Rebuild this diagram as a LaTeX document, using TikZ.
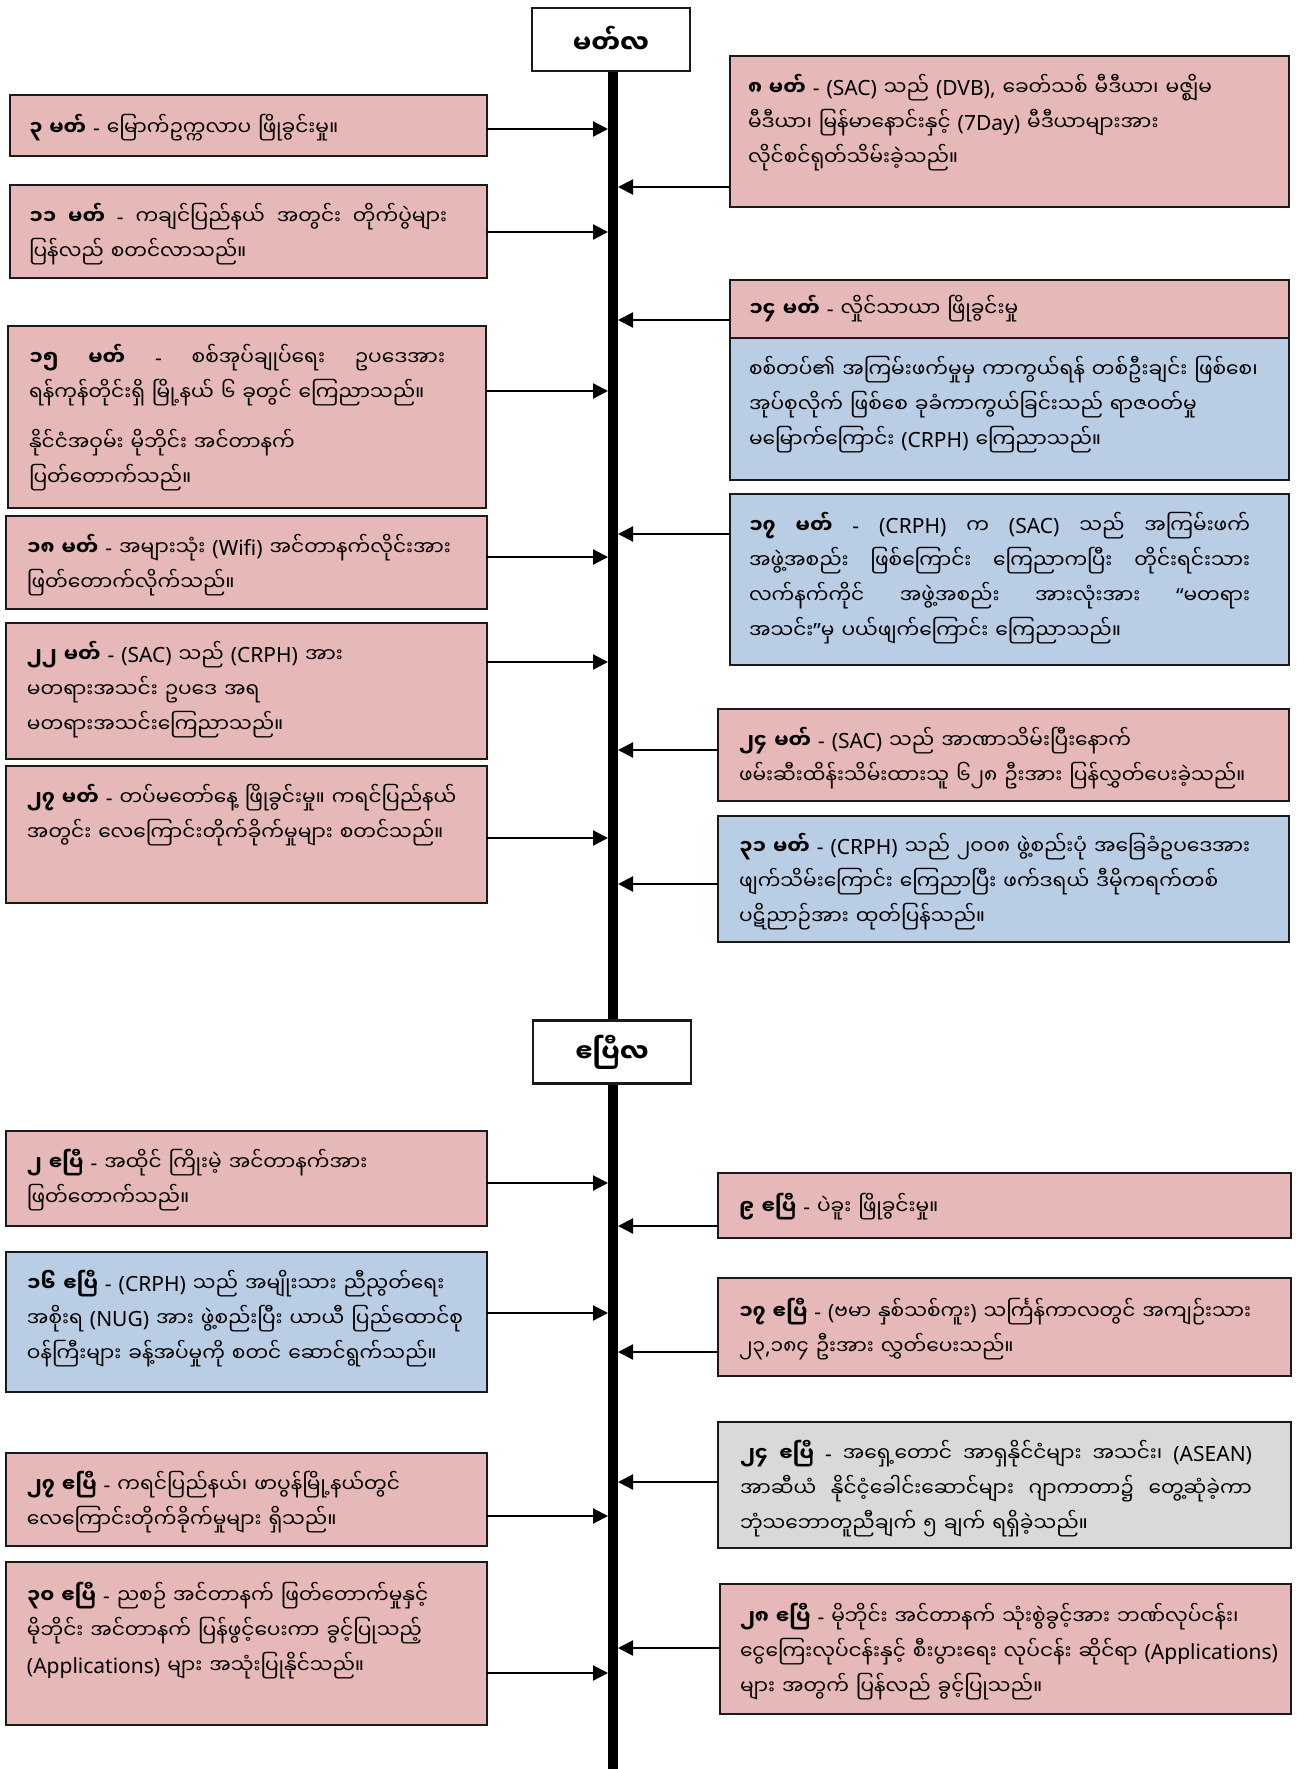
\documentclass[tikz,border=0pt]{standalone}
\usepackage{fontspec}
\setmainfont{Noto Sans}
\newfontfamily\latfont{Noto Sans}
\newfontfamily\mmfont[Script=Myanmar,Scale=0.96]{Noto Sans Myanmar UI}
\usetikzlibrary{arrows.meta,calc}
\setlength{\parindent}{0pt}
\setlength{\parskip}{0pt}
\lineskiplimit=-100pt
\XeTeXinterchartokenstate=1
\newXeTeXintercharclass\mmclass
\newcount\mmcnt
\mmcnt="1000
\loop
  \XeTeXcharclass\mmcnt=\mmclass
  \advance\mmcnt by 1
\ifnum\mmcnt<"10A0 \repeat
\XeTeXinterchartoks 0 \mmclass = {\mmfont}
\XeTeXinterchartoks 4095 \mmclass = {\mmfont}
\XeTeXinterchartoks \mmclass 0 = {\latfont}
\XeTeXinterchartoks \mmclass 4095 = {\latfont}
\definecolor{pinkc}{HTML}{E6B8B7}
\definecolor{bluec}{HTML}{B9CDE5}
\definecolor{grayc}{HTML}{D9D9D9}
\definecolor{bordc}{HTML}{1A1A1A}
\newcommand\sst{\rule[-10.5pt]{0pt}{35pt}}
\newcommand\jsp{\hskip 5pt plus 1fil\relax}
\newcommand\jl[2]{\leavevmode\hbox to #1pt{\sst#2}}
\newcommand\bx[6]{\node[#1, minimum width={#5pt-#3pt}, minimum height={#6pt-#4pt}] (#2) at (#3,#4) {};}
\tikzset{
  box/.style={draw=bordc, line width=2.4pt, anchor=north west, inner sep=0pt, outer sep=0pt},
  pbox/.style={box, fill=pinkc},
  bbox/.style={box, fill=bluec},
  gbox/.style={box, fill=grayc},
  txt/.style={anchor=north west, inner sep=0pt, outer sep=0pt, text width=640pt, align=left,
    font=\fontsize{21}{35}\selectfont},
  arr/.style={line width=2.2pt, -{Triangle[length=15pt,width=15pt]}},
  tline/.style={line width=10pt},
  hdr/.style={draw=bordc, line width=2.6pt, fill=white, minimum width=158pt,
    minimum height=63pt, inner sep=0pt, font=\fontsize{27}{30}\selectfont\bfseries}
}
\begin{document}
\begin{tikzpicture}[x=1pt,y=-1pt]
\useasboundingbox (0,0) rectangle (1297,1769);
\coordinate (tlx) at (613,0);
\coordinate (tlbot) at (613,1769);
% headers and timeline
\node[hdr] (H1) at (611,39.5) {မတ်လ};
\node[hdr] (H2) at (612,1052) {ဧပြီလ};
\draw[tline] (H1.south -| tlx) -- (H2.north -| tlx);
\draw[tline] (H2.south -| tlx) -- (tlbot);
% ---------------- left boxes
\bx{pbox}{L1}{10}{95}{487}{156}
\bx{pbox}{L2}{10}{185}{487}{278}
\bx{pbox}{L3}{8}{326}{486}{508}
\bx{pbox}{L4}{6}{516}{487}{609}
\bx{pbox}{L5}{6}{623}{487}{759}
\bx{pbox}{L6}{6}{766}{487}{903}
\bx{pbox}{L7}{6}{1131}{487}{1226}
\bx{bbox}{L8}{6}{1252}{487}{1392}
\bx{pbox}{L9}{6}{1453}{487}{1546}
\bx{pbox}{L10}{6}{1562}{487}{1725}
% ---------------- right boxes
\bx{pbox}{R1}{730}{56}{1289}{207}
\bx{pbox}{R2a}{730}{280}{1289}{338}
\bx{bbox}{R2b}{730}{338}{1289}{480}
\bx{bbox}{R3}{730}{494}{1289}{665}
\bx{pbox}{R4}{718}{709}{1289}{801}
\bx{bbox}{R5}{718}{816}{1289}{942}
\bx{pbox}{R6}{718}{1173}{1291}{1238}
\bx{pbox}{R7}{718}{1278}{1291}{1376}
\bx{gbox}{R8}{718}{1422}{1291}{1548}
\bx{pbox}{R9}{720}{1584}{1291}{1714}
% ---------------- texts left
\node[txt] (L1t) at ($(L1.north west)+(19,16)$) {\sst\textbf{၃ မတ် -} မြောက်ဥက္ကလာပ ဖြိုခွင်းမှု။};
\node[txt] (L2t) at ($(L2.north west)+(19,15)$) {\jl{418}{\textbf{၁၁\jsp မတ်\jsp -}\jsp ကချင်ပြည်နယ်\jsp အတွင်း\jsp တိုက်ပွဲများ}\\
  \sst ပြန်လည် စတင်လာသည်။};
\node[txt] (L3t) at ($(L3.north west)+(21,15)$) {\jl{416}{\textbf{၁၅\jsp မတ်}\jsp -\jsp စစ်အုပ်ချုပ်ရေး\jsp ဥပဒေအား}\\
  \sst ရန်ကုန်တိုင်းရှိ မြို့နယ် ၆ ခုတွင် ကြေညာသည်။\\[15pt]
  \sst နိုင်ငံအဝှမ်း မိုဘိုင်း အင်တာနက်\\
  \sst ပြတ်တောက်သည်။};
\node[txt] (L4t) at ($(L4.north west)+(21,15)$) {\sst\textbf{၁၈ မတ်} - အများသုံး (Wifi) အင်တာနက်လိုင်းအား\\
  \sst ဖြတ်တောက်လိုက်သည်။};
\node[txt] (L5t) at ($(L5.north west)+(21,15)$) {\sst\textbf{၂၂ မတ်} - (SAC) သည် (CRPH) အား\\
  \sst မတရားအသင်း ဥပဒေ အရ\\
  \sst မတရားအသင်းကြေညာသည်။};
\node[txt] (L6t) at ($(L6.north west)+(21,15)$) {\sst\textbf{၂၇ မတ်} - တပ်မတော်နေ့ ဖြိုခွင်းမှု။ ကရင်ပြည်နယ်\\
  \sst အတွင်း လေကြောင်းတိုက်ခိုက်မှုများ စတင်သည်။};
\node[txt] (L7t) at ($(L7.north west)+(21,15)$) {\sst\textbf{၂ ဧပြီ -} အထိုင် ကြိုးမဲ့ အင်တာနက်အား\\
  \sst ဖြတ်တောက်သည်။};
\node[txt] (L8t) at ($(L8.north west)+(21,15)$) {\sst\textbf{၁၆ ဧပြီ} - (CRPH) သည် အမျိုးသား ညီညွတ်ရေး\\
  \sst အစိုးရ (NUG) အား ဖွဲ့စည်းပြီး ယာယီ ပြည်ထောင်စု\\
  \sst ဝန်ကြီးများ ခန့်အပ်မှုကို စတင် ဆောင်ရွက်သည်။};
\node[txt] (L9t) at ($(L9.north west)+(21,15)$) {\sst\textbf{၂၇ ဧပြီ} - ကရင်ပြည်နယ်၊ ဖာပွန်မြို့နယ်တွင်\\
  \sst လေကြောင်းတိုက်ခိုက်မှုများ ရှိသည်။};
\node[txt] (L10t) at ($(L10.north west)+(21,17)$) {\sst\textbf{၃၀ ဧပြီ -} ညစဉ် အင်တာနက် ဖြတ်တောက်မှုနှင့်\\
  \sst မိုဘိုင်း အင်တာနက် ပြန်ဖွင့်ပေးကာ ခွင့်ပြုသည့်\\
  \sst (Applications) များ အသုံးပြုနိုင်သည်။};
% ---------------- texts right
\node[txt] (R1t) at ($(R1.north west)+(18,15)$) {\sst\textbf{၈ မတ်} - (SAC) သည် (DVB), ခေတ်သစ် မီဒီယာ၊ မဇ္ဈိမ\\
  \sst မီဒီယာ၊ မြန်မာနောင်းနှင့် (7Day) မီဒီယာများအား\\
  \sst လိုင်စင်ရုတ်သိမ်းခဲ့သည်။};
\node[txt] (R2at) at ($(R2a.north west)+(19,12)$) {\sst\textbf{၁၄ မတ်} - လှိုင်သာယာ ဖြိုခွင်းမှု};
\node[txt] (R2bt) at ($(R2b.north west)+(19,15)$) {\sst စစ်တပ်၏ အကြမ်းဖက်မှုမှ ကာကွယ်ရန် တစ်ဦးချင်း ဖြစ်စေ၊\\
  \sst အုပ်စုလိုက် ဖြစ်စေ ခုခံကာကွယ်ခြင်းသည် ရာဇဝတ်မှု\\
  \sst မမြောက်ကြောင်း (CRPH) ကြေညာသည်။};
\node[txt] (R3t) at ($(R3.north west)+(19,15)$) {\jl{501}{\textbf{၁၇\jsp မတ်\jsp -}\jsp (CRPH)\jsp က\jsp (SAC)\jsp သည်\jsp အကြမ်းဖက်}\\
  \jl{501}{အဖွဲ့အစည်း\jsp ဖြစ်ကြောင်း\jsp ကြေညာကပြီး\jsp တိုင်းရင်းသား}\\
  \jl{501}{လက်နက်ကိုင်\jsp အဖွဲ့အစည်း\jsp အားလုံးအား\jsp “မတရား}\\
  \sst အသင်း”မှ ပယ်ဖျက်ကြောင်း ကြေညာသည်။};
\node[txt] (R4t) at ($(R4.north west)+(21,15)$) {\sst\textbf{၂၄ မတ်} - (SAC) သည် အာဏာသိမ်းပြီးနောက်\\
  \sst ဖမ်းဆီးထိန်းသိမ်းထားသူ ၆၂၈ ဦးအား ပြန်လွှတ်ပေးခဲ့သည်။};
\node[txt] (R5t) at ($(R5.north west)+(21,14)$) {\sst\textbf{၃၁ မတ်} - (CRPH) သည် ၂၀၀၈ ဖွဲ့စည်းပုံ အခြေခံဥပဒေအား\\
  \sst ဖျက်သိမ်းကြောင်း ကြေညာပြီး ဖက်ဒရယ် ဒီမိုကရက်တစ်\\
  \sst ပဋိညာဉ်အား ထုတ်ပြန်သည်။};
\node[txt] (R6t) at ($(R6.north west)+(21,17)$) {\sst\textbf{၉ ဧပြီ} - ပဲခူး ဖြိုခွင်းမှု။};
\node[txt] (R7t) at ($(R7.north west)+(21,17)$) {\sst\textbf{၁၇ ဧပြီ -} (ဗမာ နှစ်သစ်ကူး) သင်္ကြန်ကာလတွင် အကျဉ်းသား\\
  \sst ၂၃,၁၈၄ ဦးအား လွှတ်ပေးသည်။};
\node[txt] (R8t) at ($(R8.north west)+(22,15)$) {\jl{512}{\textbf{၂၄\jsp ဧပြီ}\jsp -\jsp အရှေ့တောင်\jsp အာရှနိုင်ငံများ\jsp အသင်း၊\jsp (ASEAN)}\\
  \jl{512}{အာဆီယံ\jsp နိုင်ငံ့ခေါင်းဆောင်များ\jsp ဂျာကာတာ၌\jsp တွေ့ဆုံခဲ့ကာ}\\
  \sst ဘုံသဘောတူညီချက် ၅ ချက် ရရှိခဲ့သည်။};
\node[txt] (R9t) at ($(R9.north west)+(20,16)$) {\sst\textbf{၂၈ ဧပြီ} - မိုဘိုင်း အင်တာနက် သုံးစွဲခွင့်အား ဘဏ်လုပ်ငန်း၊\\
  \sst ငွေကြေးလုပ်ငန်းနှင့် စီးပွားရေး လုပ်ငန်း ဆိုင်ရာ (Applications)\\
  \sst များ အတွက် ပြန်လည် ခွင့်ပြုသည်။};
% ---------------- arrows
\coordinate (aL1) at (608,129);
\coordinate (aL2) at (608,232);
\coordinate (aL3) at (608,391);
\coordinate (aL4) at (608,557);
\coordinate (aL5) at (608,662);
\coordinate (aL6) at (608,838);
\coordinate (aL7) at (608,1183);
\coordinate (aL8) at (608,1313);
\coordinate (aL9) at (608,1516);
\coordinate (aL10) at (608,1673);
\coordinate (aR1) at (618,187);
\coordinate (aR2) at (618,320);
\coordinate (aR3) at (618,534);
\coordinate (aR4) at (618,750);
\coordinate (aR5) at (618,884);
\coordinate (aR6) at (618,1226);
\coordinate (aR7) at (618,1352);
\coordinate (aR8) at (618,1482);
\coordinate (aR9) at (618,1648);
\foreach \n in {L1,L2,L3,L4,L5,L6,L7,L8,L9,L10}{\draw[arr] (\n.east |- a\n) -- (a\n);}
\foreach \n/\m in {R1/R1,R2a/R2,R3/R3,R4/R4,R5/R5,R6/R6,R7/R7,R8/R8,R9/R9}{\draw[arr] (\n.west |- a\m) -- (a\m);}
\end{tikzpicture}
\end{document}
